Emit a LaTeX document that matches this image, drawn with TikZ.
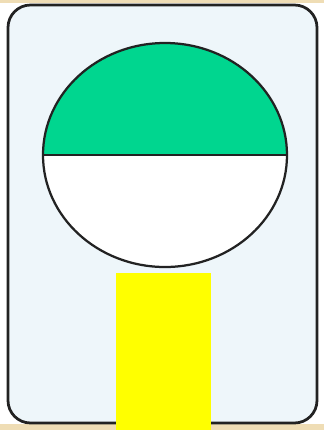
\documentclass[tikz,border=0pt]{standalone}
\usepackage{tikz}
\usepackage{xcolor}
\definecolor{sandstrip}{HTML}{EFDDB5}
\definecolor{cardfill}{HTML}{EEF6FA}
\definecolor{cardline}{HTML}{222222}
\definecolor{capgreen}{HTML}{00D68F}
\definecolor{stemyellow}{HTML}{FFFF00}

\begin{document}
\begin{tikzpicture}[x=0.2mm,y=-0.2mm]
  \useasboundingbox (0,0) rectangle (324,430);
  \fill[white] (0,0) rectangle (324,430);
  \fill[sandstrip] (0,0) rectangle (324,3);
  \fill[sandstrip] (0,424) rectangle (324,430);
  % card
  \draw[cardline,line width=0.55mm,fill=cardfill,rounded corners=4.5mm] (8,5) rectangle (317,423);
  % disc: green top half, white bottom half
  \fill[capgreen] (43,155) arc[start angle=180,end angle=360,x radius=122,y radius=112] -- cycle;
  \fill[white] (43,155) arc[start angle=180,end angle=0,x radius=122,y radius=112] -- cycle;
  \draw[cardline,line width=0.45mm] (165,155) ellipse[x radius=122,y radius=112];
  \draw[cardline,line width=0.45mm] (43,155) -- (287,155);
  % stem
  \fill[stemyellow] (116,273) rectangle (211,430);
\end{tikzpicture}
\end{document}
